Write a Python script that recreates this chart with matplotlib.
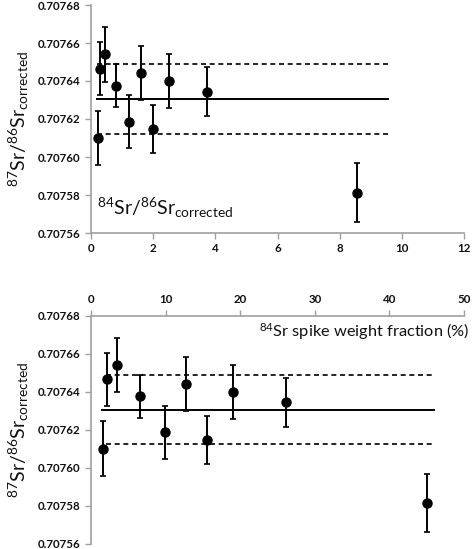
import matplotlib
matplotlib.use("Agg")
import matplotlib.pyplot as plt

plt.rcParams['font.family'] = ['Lato', 'DejaVu Sans']
plt.rcParams['mathtext.default'] = 'regular'

# Data
ratio_84_86 = [0.22, 0.29, 0.44, 0.79, 1.23, 1.60, 1.98, 2.51, 3.72, 8.55]
spike_frac = [1.55, 2.2, 3.5, 6.6, 9.95, 12.7, 15.6, 19.05, 26.1, 45.0]
sr87_86 = [0.707610, 0.7076465, 0.707654, 0.7076375, 0.7076186, 0.7076442,
           0.7076146, 0.707640, 0.7076344, 0.7075812]
sr_err = [0.0000143, 0.0000141, 0.0000143, 0.0000114, 0.0000140, 0.0000142,
          0.0000127, 0.0000142, 0.0000128, 0.0000154]
mean_val = 0.7076305
upper_val = 0.7076488
lower_val = 0.7076123
top_line_x = [0.2, 9.57]
bot_line_x = [1.5, 46.0]
bot_dash_x = [2.0, 45.7]
yticks = [0.70756, 0.70758, 0.70760, 0.70762, 0.70764, 0.70766, 0.70768]

W, H = 473, 549
fig = plt.figure(figsize=(W / 100, H / 100), dpi=100)

left, right = 91, 464
ax1 = fig.add_axes([left / W, 1 - 233 / H, (right - left) / W, (233 - 5) / H])
ax2 = fig.add_axes([left / W, 1 - 543.5 / H, (right - left) / W, (543.5 - 315.7) / H])

grey = '#a0a0a0'
ylab = r'$^{87}$Sr/$^{86}$Sr$_{corrected}$'


def style(ax):
    for s in ['top', 'right', 'bottom', 'left']:
        ax.spines[s].set_visible(False)
    ax.set_ylim(0.70756, 0.70768)
    ax.set_yticks(yticks)
    ax.set_yticklabels(['%.5f' % v for v in yticks])
    ax.tick_params(axis='both', colors=grey, labelcolor='#111111',
                   labelsize=8.3, length=4, width=1, direction='out')
    for lab in ax.get_yticklabels() + ax.get_xticklabels():
        lab.set_fontweight('bold')
    ax.set_ylabel(ylab, fontsize=14, color='#111111', labelpad=5)


def draw(ax, xs, linex, dashx):
    ax.plot(linex, [mean_val, mean_val], color='black', lw=1.4, zorder=2)
    ax.plot(dashx, [upper_val, upper_val], color='black', lw=1.2,
            ls=(0, (3.0, 2.2)), zorder=2)
    ax.plot(dashx, [lower_val, lower_val], color='black', lw=1.2,
            ls=(0, (3.0, 2.2)), zorder=2)
    ax.errorbar(xs, sr87_86, yerr=sr_err, fmt='o', color='black',
                markersize=6.5, elinewidth=1.4, capsize=2.0, capthick=1.2,
                zorder=3)


# Top panel
draw(ax1, ratio_84_86, top_line_x, top_line_x)
ax1.set_xlim(0, 12)
ax1.set_xticks(range(0, 13, 2))
style(ax1)
ax1.spines['left'].set_visible(True)
ax1.spines['bottom'].set_visible(True)
ax1.spines['left'].set_color(grey)
ax1.spines['bottom'].set_color(grey)
ax1.spines['left'].set_linewidth(1.2)
ax1.spines['bottom'].set_linewidth(1.2)
ax1.text(0.2, 0.707573, r'$^{84}$Sr/$^{86}$Sr$_{corrected}$', fontsize=14,
         color='#111111', ha='left', va='center')

# Bottom panel
draw(ax2, spike_frac, bot_line_x, bot_dash_x)
ax2.set_xlim(0, 50)
ax2.set_xticks(range(0, 51, 10))
style(ax2)
ax2.xaxis.tick_top()
ax2.tick_params(axis='x', labeltop=True, labelbottom=False)
for lab in ax2.get_xticklabels():
    lab.set_fontweight('bold')
ax2.spines['left'].set_visible(True)
ax2.spines['top'].set_visible(True)
ax2.spines['left'].set_color(grey)
ax2.spines['top'].set_color(grey)
ax2.spines['left'].set_linewidth(1.2)
ax2.spines['top'].set_linewidth(1.2)
fig.text(470 / W, 1 - 331.7 / H, r'$^{84}$Sr spike weight fraction (%)',
         fontsize=11.8, color='#111111', ha='right', va='center')

fig.savefig('out.png', dpi=100)
